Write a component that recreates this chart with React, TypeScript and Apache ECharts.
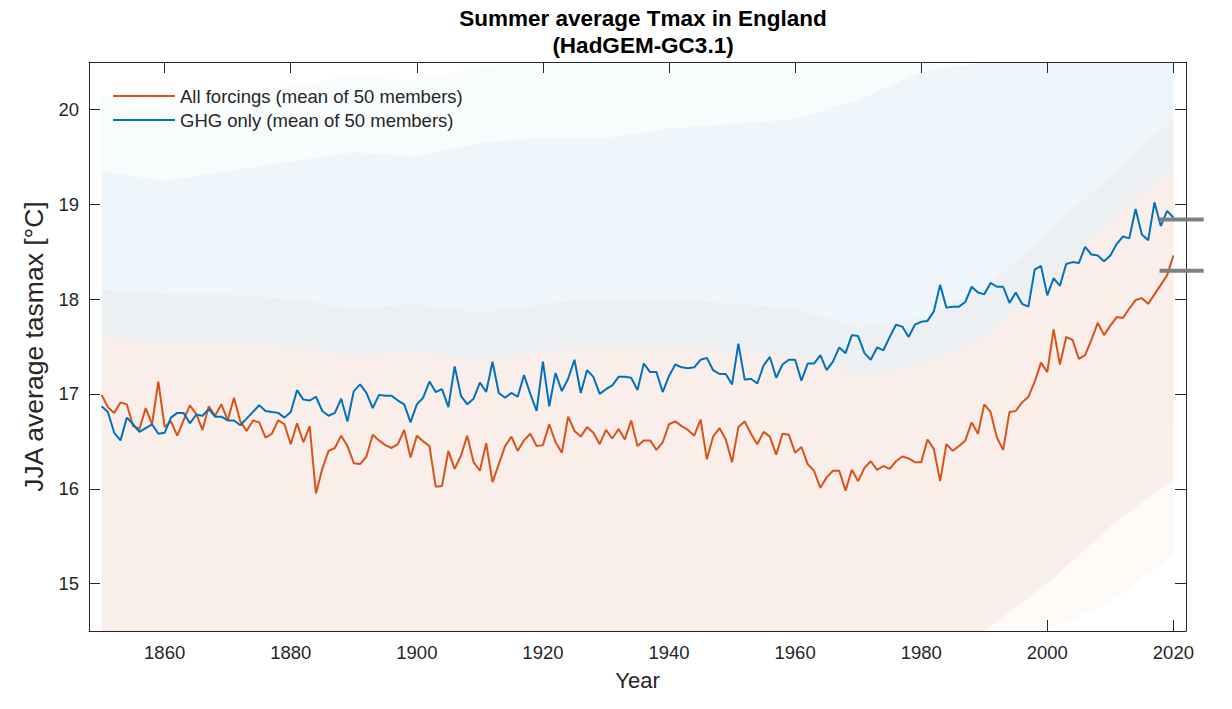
import React, { useEffect, useRef } from "react";
import * as echarts from "echarts";

// ---------- data ----------
const startYear = 1850;
const allForcings = [
  16.99, 16.86, 16.80, 16.91, 16.89, 16.66, 16.63, 16.85, 16.68, 17.13,
  16.65, 16.71, 16.56, 16.72, 16.88, 16.79, 16.62, 16.87, 16.77, 16.89,
  16.72, 16.96, 16.71, 16.61, 16.72, 16.70, 16.54, 16.58, 16.72, 16.68,
  16.47, 16.69, 16.49, 16.66, 15.95, 16.21, 16.40, 16.43, 16.56, 16.45,
  16.27, 16.26, 16.34, 16.57, 16.51, 16.46, 16.43, 16.47, 16.62, 16.33,
  16.56, 16.50, 16.45, 16.02, 16.03, 16.40, 16.21, 16.35, 16.56, 16.28,
  16.19, 16.48, 16.07, 16.26, 16.45, 16.55, 16.40, 16.51, 16.58, 16.45,
  16.46, 16.68, 16.49, 16.38, 16.76, 16.61, 16.55, 16.65, 16.59, 16.47,
  16.62, 16.53, 16.63, 16.52, 16.72, 16.45, 16.51, 16.51, 16.41, 16.49,
  16.68, 16.71, 16.66, 16.62, 16.56, 16.73, 16.31, 16.55, 16.64, 16.52,
  16.28, 16.65, 16.71, 16.58, 16.47, 16.60, 16.55, 16.36, 16.58, 16.57,
  16.38, 16.44, 16.26, 16.19, 16.01, 16.12, 16.19, 16.19, 15.98, 16.20,
  16.08, 16.22, 16.29, 16.20, 16.24, 16.21, 16.29, 16.34, 16.32, 16.28,
  16.28, 16.52, 16.42, 16.08, 16.47, 16.40, 16.45, 16.51, 16.70, 16.58,
  16.89, 16.81, 16.54, 16.41, 16.81, 16.82, 16.91, 16.97, 17.13, 17.33,
  17.23, 17.68, 17.31, 17.60, 17.57, 17.37, 17.41, 17.57, 17.75, 17.62,
  17.72, 17.81, 17.80, 17.90, 17.99, 18.01, 17.95, 18.05, 18.15, 18.25,
  18.46,
];
const ghgOnly = [
  16.87, 16.81, 16.59, 16.51, 16.75, 16.68, 16.60, 16.64, 16.68, 16.58,
  16.59, 16.75, 16.80, 16.80, 16.69, 16.78, 16.77, 16.84, 16.76, 16.76,
  16.72, 16.72, 16.67, 16.74, 16.81, 16.88, 16.82, 16.81, 16.80, 16.75,
  16.81, 17.04, 16.94, 16.93, 16.97, 16.82, 16.77, 16.80, 16.95, 16.71,
  17.03, 17.10, 17.01, 16.85, 16.99, 16.98, 16.98, 16.93, 16.89, 16.70,
  16.89, 16.96, 17.13, 17.02, 17.05, 16.86, 17.29, 16.98, 16.89, 16.95,
  17.12, 17.02, 17.34, 17.01, 16.96, 17.01, 16.97, 17.20, 17.00, 16.82,
  17.34, 16.87, 17.22, 17.03, 17.16, 17.36, 17.01, 17.25, 17.18, 17.00,
  17.05, 17.09, 17.18, 17.18, 17.17, 17.04, 17.32, 17.23, 17.23, 17.02,
  17.19, 17.31, 17.28, 17.27, 17.28, 17.36, 17.38, 17.25, 17.21, 17.21,
  17.10, 17.53, 17.15, 17.16, 17.11, 17.30, 17.39, 17.17, 17.31, 17.36,
  17.36, 17.14, 17.32, 17.32, 17.41, 17.25, 17.34, 17.49, 17.43, 17.62,
  17.61, 17.43, 17.36, 17.49, 17.46, 17.60, 17.73, 17.71, 17.60, 17.73,
  17.76, 17.77, 17.87, 18.15, 17.91, 17.92, 17.92, 17.97, 18.13, 18.07,
  18.05, 18.17, 18.13, 18.13, 17.96, 18.07, 17.95, 17.92, 18.31, 18.35,
  18.04, 18.22, 18.14, 18.37, 18.39, 18.38, 18.55, 18.47, 18.46, 18.40,
  18.46, 18.58, 18.66, 18.64, 18.95, 18.68, 18.62, 19.02, 18.77, 18.93,
  18.86,
];

// ensemble spread envelopes (approximate, per decade)
const bandYears = [1850, 1860, 1870, 1880, 1890, 1900, 1910, 1920, 1930, 1940, 1950, 1960, 1970, 1980, 1990, 2000, 2010, 2020];
const afOuterLow = [13.5, 13.5, 13.5, 13.5, 13.4, 13.4, 13.4, 13.5, 13.5, 13.5, 13.5, 13.4, 13.3, 13.5, 13.8, 14.3, 14.8, 15.3];
const afCoreLow = [14.2, 14.2, 14.2, 14.2, 14.1, 14.1, 14.1, 14.2, 14.2, 14.2, 14.2, 14.1, 14.0, 14.2, 14.5, 15.0, 15.6, 16.1];
const afCoreHigh = [17.6, 17.55, 17.55, 17.5, 17.4, 17.45, 17.35, 17.45, 17.5, 17.5, 17.45, 17.4, 17.2, 17.3, 17.6, 18.2, 18.8, 19.4];
const afHigh = [18.1, 18.05, 18.05, 18.0, 17.9, 17.95, 17.85, 17.95, 18.0, 18.0, 17.95, 17.9, 17.7, 17.8, 18.1, 18.7, 19.3, 19.9];
const ghgLow = [14.6, 14.5, 14.6, 14.7, 14.8, 14.8, 14.9, 15.0, 15.0, 15.1, 15.1, 15.2, 15.4, 15.7, 16.0, 16.1, 16.4, 16.7];
const ghgHigh = [19.35, 19.25, 19.35, 19.45, 19.55, 19.5, 19.65, 19.7, 19.7, 19.8, 19.85, 19.9, 20.1, 20.4, 20.7, 20.8, 21.1, 21.45];
const ghgOuterHigh = [20.15, 20.05, 20.15, 20.25, 20.35, 20.3, 20.45, 20.5, 20.5, 20.6, 20.65, 20.7, 20.9, 21.2, 21.5, 21.6, 21.9, 22.2];

// reference markers on the right edge
const markerValues = [18.84, 18.30];
const markerStart = 2017.8;
const markerEnd = 2024.8;

const xTicks = [1860, 1880, 1900, 1920, 1940, 1960, 1980, 2000, 2020];
const yTicks = [15, 16, 17, 18, 19, 20];

const TXT = "#262626";
const FONT = "'Liberation Sans', Arial, Helvetica, sans-serif";

function band(id: string, low: number[], high: number[], color: string): any {
  return {
    type: "custom",
    name: id,
    silent: true,
    z: 1,
    data: [[bandYears[0], low[0]]],
    encode: { x: 0, y: 1 },
    renderItem: (params: any, api: any) => {
      const cs = params.coordSys;
      const clampY = (p: number[]) => [p[0], Math.min(cs.y + cs.height, Math.max(cs.y, p[1]))];
      const top = bandYears.map((y, i) => clampY(api.coord([y, high[i]])));
      const bottom = bandYears.map((y, i) => clampY(api.coord([y, low[i]]))).reverse();
      return {
        type: "polygon",
        shape: { points: top.concat(bottom) },
        style: { fill: color, stroke: "none" },
      };
    },
  };
}

export default function App() {
  const ref = useRef<HTMLDivElement>(null);
  useEffect(() => {
    if (!ref.current) return;
    const chart = echarts.init(ref.current, null, { renderer: "svg" });
    const years = allForcings.map((_, i) => startYear + i);
    const axisCommon = {
      type: "value",
      axisLine: { show: true, lineStyle: { color: TXT, width: 1 } },
      axisTick: { show: true, inside: true, length: 11, lineStyle: { color: TXT } },
      splitLine: { show: false },
    };
    chart.setOption({
      animation: false,
      backgroundColor: "#ffffff",
      title: {
        text: "Summer average Tmax in England\n(HadGEM-GC3.1)",
        left: 638,
        textAlign: "center",
        top: 0,
        textStyle: { fontFamily: FONT, fontSize: 22.5, fontWeight: "bold", color: "#000", lineHeight: 27 },
      },
      legend: {
        data: ["All forcings (mean of 50 members)", "GHG only (mean of 50 members)"],
        orient: "vertical",
        left: 113,
        top: 86,
        padding: 0,
        icon: "rect",
        itemWidth: 62,
        itemHeight: 2,
        itemGap: 4,
        textStyle: { fontFamily: FONT, fontSize: 18.5, lineHeight: 20, color: TXT },
      },
      grid: { left: 89, right: 46, top: 62, bottom: 78 },
      xAxis: [
        {
          ...axisCommon,
          min: 1848,
          max: 2022,
          position: "bottom",
          name: "Year",
          nameLocation: "middle",
          nameGap: 38,
          nameTextStyle: { fontFamily: FONT, fontSize: 22, color: TXT },
          axisTick: { ...axisCommon.axisTick, customValues: xTicks },
          axisLabel: {
            customValues: xTicks,
            formatter: (v: number) => String(v),
            fontFamily: FONT,
            fontSize: 18.5,
            color: TXT,
            margin: 12,
          },
        },
        {
          ...axisCommon,
          min: 1848,
          max: 2022,
          position: "top",
          axisTick: { ...axisCommon.axisTick, customValues: xTicks },
          axisLabel: { show: false },
        },
      ],
      yAxis: [
        {
          ...axisCommon,
          min: 14.5,
          max: 20.5,
          position: "left",
          name: "JJA average tasmax [°C]",
          nameLocation: "middle",
          nameGap: 37,
          nameRotate: 90,
          nameTextStyle: { fontFamily: FONT, fontSize: 26.5, color: TXT },
          axisTick: { ...axisCommon.axisTick, customValues: yTicks },
          axisLabel: {
            customValues: yTicks,
            formatter: (v: number) => String(v),
            fontFamily: FONT,
            fontSize: 18.5,
            color: TXT,
            margin: 10,
          },
        },
        {
          ...axisCommon,
          min: 14.5,
          max: 20.5,
          position: "right",
          axisTick: { ...axisCommon.axisTick, customValues: yTicks },
          axisLabel: { show: false },
        },
      ],
      series: [
        band("ghgOuter", ghgHigh, ghgOuterHigh, "rgba(0,114,189,0.025)"),
        band("ghg", ghgLow, ghgHigh, "rgba(0,114,189,0.068)"),
        band("afOuter", afOuterLow, afCoreLow, "rgba(217,83,25,0.03)"),
        band("afCore", afCoreLow, afCoreHigh, "#faeeea"),
        band("afTop", afCoreHigh, afHigh, "rgba(217,83,25,0.035)"),
        {
          type: "line",
          name: "All forcings (mean of 50 members)",
          data: years.map((y, i) => [y, allForcings[i]]),
          showSymbol: false,
          symbol: "none",
          color: "#D95319",
          lineStyle: { color: "#D95319", width: 2 },
          z: 5,
        },
        {
          type: "line",
          name: "GHG only (mean of 50 members)",
          data: years.map((y, i) => [y, ghgOnly[i]]),
          showSymbol: false,
          symbol: "none",
          color: "#0072BD",
          lineStyle: { color: "#0072BD", width: 2 },
          z: 6,
        },
        {
          type: "custom",
          name: "markers",
          clip: false,
          z: 7,
          data: markerValues.map((v) => [markerStart, v, markerEnd]),
          encode: { x: [0, 2], y: 1 },
          renderItem: (_params: any, api: any) => {
            const a = api.coord([api.value(0), api.value(1)]);
            const b = api.coord([api.value(2), api.value(1)]);
            return {
              type: "line",
              shape: { x1: a[0], y1: a[1], x2: b[0], y2: b[1] },
              style: { stroke: "#808080", lineWidth: 4 },
            };
          },
        },
      ],
    });
    return () => chart.dispose();
  }, []);
  return (
    <div
      ref={ref}
      style={{ position: "fixed", left: 0, top: 0, width: 1232, height: 709 }}
    />
  );
}
